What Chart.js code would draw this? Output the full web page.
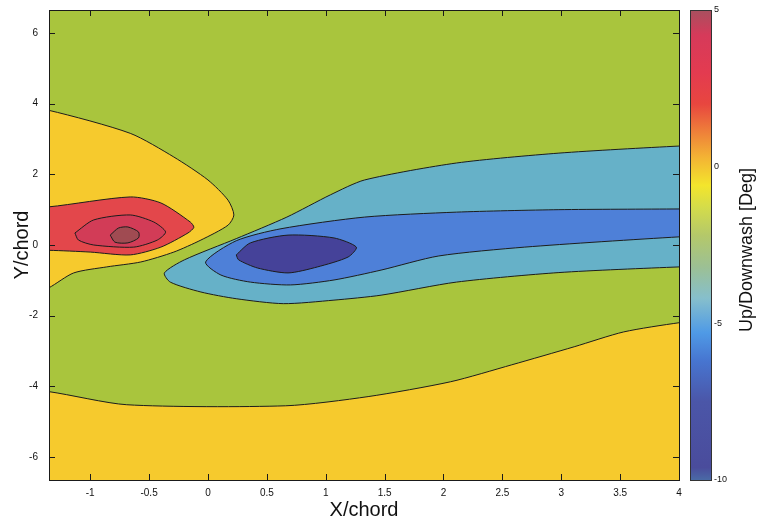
<!DOCTYPE html>
<html><head><meta charset="utf-8">
<script src="https://cdn.jsdelivr.net/npm/chart.js@4.4.1/dist/chart.umd.min.js"></script>
<style>html,body{margin:0;padding:0;background:#fff;}#wrap{width:763px;height:523px;position:relative;}</style>
</head><body><div id="wrap"><canvas id="c"></canvas></div>
<script>
// ---- axis ranges and tick labels ----
const X_RANGE = [-1.35, 4];
const Y_RANGE = [-6.65, 6.65];
const CB_RANGE = [-10, 5];
const X_TICKS = [-1, -0.5, 0, 0.5, 1, 1.5, 2, 2.5, 3, 3.5, 4];
const Y_TICKS = [-6, -4, -2, 0, 2, 4, 6];
const CB_TICKS = [-10, -5, 0, 5];

// ---- colour scale (value in deg, colour) ----
const CB_VALUES = [5, 4.2, 3, 2, 1.2, 0.3, -0.6, -1.3, -2.2, -3.2, -4.2, -5.3, -6.2, -7.5, -9.6, -10];
const CB_COLORS = ['#a8505f','#d63a5a','#e33b50','#e8463f','#ee7a3a','#f3b334','#f3e52c','#d4dc4a','#b4c86a','#9cc094','#86bfcc','#4f9ae6','#4775d0','#4b56a8','#4a4c9c','#4a6aa6'];

// ---- filled contour regions: outlines in (X/chord, Y/chord) ----
const bgRegion = [[-2,-8],[5,-8],[5,8],[-2,8]];
const yellowLower = [[-1.6,-4.1],[-1.35,-4.15],[-0.69,-4.52],[0.66,-4.55],[1.36,-4.29],[2.06,-3.87],[2.58,-3.39],[3.11,-2.88],[3.53,-2.46],[4.0,-2.2],[4.3,-2.1],[4.3,-8],[-1.6,-8]];
const yellowUpper = [[-1.6,3.9],[-1.35,3.81],[-0.66,3.16],[-0.29,2.49],[0.0,1.84],[0.17,1.27],[0.22,0.85],[0.17,0.56],[-0.06,0.14],[-0.29,-0.2],[-0.57,-0.48],[-0.86,-0.62],[-1.14,-0.79],[-1.35,-1.21],[-1.6,-1.6]];
const redOuter = [[-1.6,1.07],[-1.35,1.08],[-0.66,1.36],[-0.40,1.19],[-0.15,0.65],[-0.12,0.5],[-0.17,0.34],[-0.40,-0.06],[-0.66,-0.28],[-1.0,-0.2],[-1.35,-0.15],[-1.6,-0.15]];
const redMid = [[-1.13,0.34],[-0.97,0.71],[-0.66,0.85],[-0.46,0.65],[-0.36,0.37],[-0.43,0.14],[-0.63,-0.06],[-0.97,0.0],[-1.1,0.14],[-1.13,0.34]];
const redCore = [[-0.83,0.28],[-0.76,0.48],[-0.68,0.51],[-0.59,0.37],[-0.59,0.2],[-0.68,0.06],[-0.79,0.08],[-0.83,0.28]];
const tealOuter = [[4.3,2.82],[4.0,2.80],[2.98,2.60],[2.11,2.32],[1.33,1.84],[1.04,1.42],[0.67,0.79],[0.24,0.18],[-0.2,-0.42],[-0.37,-0.79],[-0.32,-1.05],[-0.06,-1.33],[0.24,-1.52],[0.64,-1.66],[1.07,-1.56],[1.47,-1.42],[2.11,-1.05],[2.98,-0.78],[4.0,-0.62],[4.3,-0.6]];
const blueMid = [[4.3,1.03],[4.0,1.02],[2.98,1.0],[2.11,0.93],[1.33,0.79],[0.62,0.46],[0.24,0.12],[-0.02,-0.48],[0.11,-0.85],[0.36,-1.05],[0.7,-1.13],[1.07,-0.99],[1.47,-0.71],[1.96,-0.31],[2.69,-0.06],[4.0,0.23],[4.3,0.25]];
const blueCore = [[0.24,-0.28],[0.36,0.06],[0.68,0.28],[1.07,0.2],[1.26,-0.06],[1.19,-0.34],[0.93,-0.62],[0.68,-0.79],[0.42,-0.65],[0.26,-0.42],[0.24,-0.28]];

const REGIONS = [
  {pts: bgRegion,    color: '#a9c53d', line: false},
  {pts: yellowLower, color: '#f6ca2d', line: true},
  {pts: yellowUpper, color: '#f6ca2d', line: true},
  {pts: redOuter,    color: '#e3474b', line: true},
  {pts: redMid,      color: '#d23c57', line: true},
  {pts: redCore,     color: '#a04b52', line: true},
  {pts: tealOuter,   color: '#66b1c8', line: true},
  {pts: blueMid,     color: '#4e80d8', line: true},
  {pts: blueCore,    color: '#454299', line: true}
];

const FONT = "'Liberation Sans', Arial, sans-serif";

const datasets = REGIONS.map((r, i) => ({
  data: r.pts.map(([x, y]) => ({x, y})),
  showLine: true,
  fill: 'shape',
  backgroundColor: r.color,
  borderColor: r.line ? '#1c1c1c' : 'rgba(0,0,0,0)',
  borderWidth: r.line ? 1 : 0,
  pointRadius: 0,
  pointHoverRadius: 0,
  tension: 0.25,
  order: 100 - i
}));

const noPad = s => { s.paddingTop = 0; s.paddingBottom = 0; s.paddingLeft = 0; s.paddingRight = 0; };

const decor = {
  id: 'decor',
  afterDatasetsDraw(chart) {
    const ctx = chart.ctx, a = chart.chartArea;
    const xs = chart.scales.x, ys = chart.scales.y, cb = chart.scales.cb;
    ctx.save();
    ctx.strokeStyle = '#1a1a1a';
    ctx.lineWidth = 1;
    ctx.beginPath();
    X_TICKS.forEach(v => {
      const px = Math.round(xs.getPixelForValue(v)) + 0.5;
      ctx.moveTo(px, a.bottom); ctx.lineTo(px, a.bottom - 6);
      ctx.moveTo(px, a.top); ctx.lineTo(px, a.top + 6);
    });
    Y_TICKS.forEach(v => {
      const py = Math.round(ys.getPixelForValue(v)) + 0.5;
      ctx.moveTo(a.left, py); ctx.lineTo(a.left + 6, py);
      ctx.moveTo(a.right, py); ctx.lineTo(a.right - 6, py);
    });
    ctx.stroke();
    ctx.strokeRect(Math.round(a.left) + 0.5, Math.round(a.top) + 0.5, Math.round(a.right - a.left), Math.round(a.bottom - a.top));

    // colour bar
    const top = cb.getPixelForValue(CB_RANGE[1]);
    const bot = cb.getPixelForValue(CB_RANGE[0]);
    const x0 = cb.left + 11, w = 21;
    const g = ctx.createLinearGradient(0, top, 0, bot);
    CB_VALUES.forEach((v, i) => g.addColorStop((CB_RANGE[1] - v) / (CB_RANGE[1] - CB_RANGE[0]), CB_COLORS[i]));
    ctx.fillStyle = g;
    ctx.fillRect(x0, top, w, bot - top);
    ctx.strokeStyle = '#333';
    ctx.strokeRect(x0 + 0.5, Math.round(top) + 0.5, w, Math.round(bot - top));

    // colour bar title
    ctx.fillStyle = '#111';
    ctx.font = '18px ' + FONT;
    ctx.textAlign = 'center';
    ctx.textBaseline = 'middle';
    ctx.translate(cb.left + 68, (top + bot) / 2 + 5);
    ctx.rotate(-Math.PI / 2);
    ctx.fillText('Up/Downwash [Deg]', 0, 0);
    ctx.restore();
  }
};

new Chart(document.getElementById('c'), {
  type: 'scatter',
  data: {datasets},
  plugins: [decor],
  options: {
    responsive: true,
    maintainAspectRatio: false,
    animation: false,
    events: [],
    layout: {padding: {top: 10, right: 0, bottom: 0, left: 0}},
    elements: {line: {capBezierPoints: false}},
    plugins: {legend: {display: false}, tooltip: {enabled: false}},
    scales: {
      x: {
        type: 'linear', min: X_RANGE[0], max: X_RANGE[1],
        afterBuildTicks: s => { s.ticks = X_TICKS.map(v => ({value: v})); },
        afterFit: s => { s.height = 43; noPad(s); },
        grid: {display: false, drawTicks: false},
        border: {display: false},
        ticks: {autoSkip: false, maxRotation: 0, padding: 7, color: '#111', font: {family: FONT, size: 10}, callback: v => String(v)},
        title: {display: true, text: 'X/chord', color: '#111', font: {family: FONT, size: 20}, padding: {top: 0, bottom: 1}}
      },
      y: {
        type: 'linear', min: Y_RANGE[0], max: Y_RANGE[1],
        afterBuildTicks: s => { s.ticks = Y_TICKS.map(v => ({value: v})); },
        afterFit: s => { s.width = 49; noPad(s); },
        grid: {display: false, drawTicks: false},
        border: {display: false},
        ticks: {autoSkip: false, padding: 11, color: '#111', font: {family: FONT, size: 10}, callback: v => String(v)},
        title: {display: true, text: 'Y/chord', color: '#111', font: {family: FONT, size: 20}, padding: {top: 10, bottom: 0}}
      },
      cb: {
        type: 'linear', position: 'right', min: CB_RANGE[0], max: CB_RANGE[1],
        afterBuildTicks: s => { s.ticks = CB_TICKS.map(v => ({value: v})); },
        afterFit: s => { s.width = 84; noPad(s); },
        grid: {display: false, drawTicks: false},
        border: {display: false},
        ticks: {autoSkip: false, padding: 35, color: '#111', font: {family: FONT, size: 9}, callback: v => String(v)}
      }
    }
  }
});
</script></body></html>
